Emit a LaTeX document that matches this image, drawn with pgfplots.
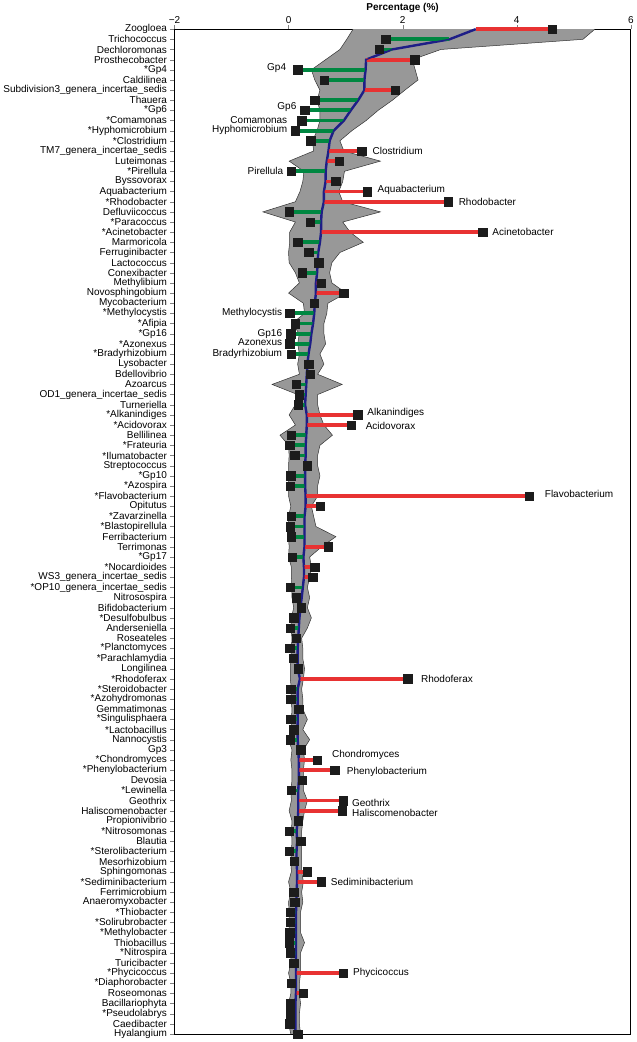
\documentclass[border=0pt]{standalone}
\usepackage{pgfplots}
\pgfplotsset{compat=1.18}
\usepackage{pgfplotstable}
\usepgfplotslibrary{fillbetween}
\usepackage{fontspec}
\setmainfont{Liberation Sans}
\definecolor{bandgray}{RGB}{152,152,152}
\definecolor{navyline}{RGB}{30,30,135}
\definecolor{greenbar}{RGB}{0,135,65}
\definecolor{redbar}{RGB}{232,50,50}
\definecolor{sqblack}{RGB}{28,28,28}

\pgfplotstableread{
row mean sample lo hi
1 3.28 4.62 1.13 5.37
2 2.82 1.70 1.02 5.16
3 1.81 1.59 0.90 2.67
4 1.36 2.21 0.65 2.17
5 1.35 0.16 0.40 2.22
6 1.33 0.62 0.46 2.27
7 1.33 1.87 0.55 2.04
8 1.22 0.46 0.50 1.82
9 1.09 0.28 0.55 1.57
10 0.97 0.23 0.55 1.36
11 0.79 0.12 0.50 1.11
12 0.72 0.39 0.42 0.90
13 0.70 1.28 0.44 0.97
14 0.67 0.89 0.01 1.61
15 0.65 0.05 0.27 0.98
16 0.65 0.83 0.25 0.95
17 0.62 1.38 0.20 0.88
18 0.62 2.80 0.12 0.95
19 0.58 0.01 -0.45 1.61
20 0.57 0.38 0.12 0.95
21 0.57 3.40 0.02 1.08
22 0.55 0.16 0.02 1.31
23 0.52 0.35 0.00 0.90
24 0.51 0.53 0.01 0.76
25 0.50 0.24 0.12 0.72
26 0.48 0.57 0.19 0.76
27 0.48 0.97 0.00 1.01
28 0.46 0.45 0.26 0.69
29 0.45 0.02 0.28 0.67
30 0.43 0.12 0.06 0.62
31 0.40 0.04 0.19 0.62
32 0.38 0.02 0.16 0.65
33 0.35 0.05 0.19 0.55
34 0.33 0.35 0.16 0.62
35 0.32 0.38 0.19 0.51
36 0.31 0.13 -0.29 0.94
37 0.30 0.19 0.16 0.51
38 0.29 0.17 0.12 0.51
39 0.32 1.21 0.01 0.55
40 0.32 1.10 0.12 0.62
41 0.31 0.05 -0.15 0.77
42 0.30 0.02 0.00 0.55
43 0.30 0.11 0.01 0.51
44 0.29 0.33 0.00 0.51
45 0.29 0.04 0.00 0.55
46 0.29 0.03 0.00 0.51
47 0.30 4.22 0.00 0.51
48 0.30 0.55 0.04 0.40
49 0.28 0.05 0.00 0.44
50 0.28 0.03 0.00 0.48
51 0.28 0.05 0.00 0.83
52 0.28 0.69 0.01 0.58
53 0.26 0.06 0.00 0.37
54 0.27 0.46 0.05 0.40
55 0.27 0.42 0.05 0.37
56 0.25 0.03 0.06 0.33
57 0.23 0.13 0.06 0.37
58 0.21 0.22 0.09 0.33
59 0.19 0.09 0.05 0.40
60 0.18 0.03 0.04 0.33
61 0.17 0.13 0.06 0.23
62 0.16 0.02 0.05 0.25
63 0.16 0.08 0.04 0.25
64 0.16 0.17 0.03 0.28
65 0.20 2.09 0.03 0.26
66 0.16 0.04 0.05 0.23
67 0.16 0.04 0.04 0.25
68 0.16 0.18 0.06 0.25
69 0.16 0.04 0.05 0.33
70 0.16 0.09 0.06 0.25
71 0.16 0.03 0.00 0.37
72 0.17 0.21 0.06 0.26
73 0.18 0.50 0.04 0.28
74 0.18 0.81 0.06 0.26
75 0.18 0.24 0.06 0.26
76 0.17 0.05 0.04 0.26
77 0.17 0.96 0.05 0.33
78 0.17 0.94 0.01 0.28
79 0.16 0.17 0.06 0.25
80 0.14 0.01 0.05 0.23
81 0.15 0.21 0.06 0.23
82 0.14 0.01 0.05 0.23
83 0.14 0.10 0.04 0.23
84 0.15 0.33 0.05 0.23
85 0.15 0.57 0.00 0.26
86 0.14 0.09 0.04 0.23
87 0.14 0.11 0.00 0.25
88 0.13 0.03 0.01 0.21
89 0.13 0.03 0.01 0.21
90 0.13 0.02 0.01 0.21
91 0.13 0.01 0.00 0.28
92 0.13 0.03 0.04 0.21
93 0.13 0.09 0.04 0.21
94 0.13 0.96 0.00 0.21
95 0.13 0.05 0.04 0.19
96 0.13 0.26 0.04 0.19
97 0.12 0.03 0.00 0.21
98 0.12 0.03 0.00 0.19
99 0.12 0.02 0.00 0.19
100 0.12 0.16 0.04 0.21
}\datatable

\pgfplotstableread{
x y label
1.47 13 Clostridium
1.56 16.8 Aquabacterium
2.98 18 Rhodobacter
3.57 21 Acinetobacter
1.38 38.8 Alkanindiges
1.35 40.1 Acidovorax
4.49 46.8 Flavobacterium
2.32 65 Rhodoferax
0.76 72.5 Chondromyces
1.02 74.2 Phenylobacterium
1.11 77.2 Geothrix
1.11 78.2 Haliscomenobacter
0.74 85 Sediminibacterium
1.13 94 Phycicoccus
}\rightlabels

\pgfplotstableread{
x y label
-0.04 4.85 Gp4
0.14 8.65 Gp6
-0.02 10 Comamonas
-0.02 10.9 Hyphomicrobium
-0.09 15 Pirellula
-0.11 29 Methylocystis
-0.11 31 Gp16
-0.11 31.85 Azonexus
-0.11 33 Bradyrhizobium
}\leftlabels

\begin{document}
\begin{tikzpicture}
\begin{axis}[
  scale only axis,
  width=456pt, height=1004pt,
  xmin=-2, xmax=6, ymin=1, ymax=100,
  y dir=reverse,
  xtick={-2,0,2,4,6},
  xticklabels={−2,0,2,4,6},
  xticklabel pos=right, xtick pos=right,
  ytick pos=left,
  tick align=outside,
  major tick length=4pt,
  xlabel={\textbf{Percentage (\%)}},
  xlabel style={yshift=-3pt},
  ticklabel style={font=\fontsize{10}{12}\selectfont},
  xticklabel style={yshift=-2pt},
  ytick={1,...,100},
  yticklabels={Zoogloea,Trichococcus,Dechloromonas,Prosthecobacter,*Gp4,Caldilinea,Subdivision3\_genera\_incertae\_sedis,Thauera,*Gp6,*Comamonas,*Hyphomicrobium,*Clostridium,TM7\_genera\_incertae\_sedis,Luteimonas,*Pirellula,Byssovorax,Aquabacterium,*Rhodobacter,Defluviicoccus,*Paracoccus,*Acinetobacter,Marmoricola,Ferruginibacter,Lactococcus,Conexibacter,Methylibium,Novosphingobium,Mycobacterium,*Methylocystis,*Afipia,*Gp16,*Azonexus,*Bradyrhizobium,Lysobacter,Bdellovibrio,Azoarcus,OD1\_genera\_incertae\_sedis,Turneriella,*Alkanindiges,*Acidovorax,Bellilinea,*Frateuria,*Ilumatobacter,Streptococcus,*Gp10,*Azospira,*Flavobacterium,Opitutus,*Zavarzinella,*Blastopirellula,Ferribacterium,Terrimonas,*Gp17,*Nocardioides,WS3\_genera\_incertae\_sedis,*OP10\_genera\_incertae\_sedis,Nitrosospira,Bifidobacterium,*Desulfobulbus,Anderseniella,Roseateles,*Planctomyces,*Parachlamydia,Longilinea,*Rhodoferax,*Steroidobacter,*Azohydromonas,Gemmatimonas,*Singulisphaera,*Lactobacillus,Nannocystis,Gp3,*Chondromyces,*Phenylobacterium,Devosia,*Lewinella,Geothrix,Haliscomenobacter,Propionivibrio,*Nitrosomonas,Blautia,*Sterolibacterium,Mesorhizobium,Sphingomonas,*Sediminibacterium,Ferrimicrobium,Anaeromyxobacter,*Thiobacter,*Solirubrobacter,*Methylobacter,Thiobacillus,*Nitrospira,Turicibacter,*Phycicoccus,*Diaphorobacter,Roseomonas,Bacillariophyta,*Pseudolabrys,Caedibacter,Hyalangium},
  axis line style={black, line width=0.8pt},
  clip=false,
]
% grey band
\addplot[name path=L, draw=black!80, line width=0.5pt, mark=none] table[x=lo, y=row] {\datatable};
\addplot[name path=R, draw=black!80, line width=0.5pt, mark=none] table[x=hi, y=row] {\datatable};
\addplot[bandgray] fill between[of=L and R];
% mean line
\addplot[navyline, line width=2.4pt, mark=none] table[x=mean, y=row] {\datatable};
% deviations below mean (green)
\addplot[greenbar, line width=3.8pt, mark=none,
  quiver={u={\thisrow{sample}-\thisrow{mean}}, v=0},
  restrict expr to domain={\thisrow{sample}-\thisrow{mean}}{-100:0}]
  table[x=mean, y=row] {\datatable};
% deviations above mean (red)
\addplot[redbar, line width=3.8pt, mark=none,
  quiver={u={\thisrow{sample}-\thisrow{mean}}, v=0},
  restrict expr to domain={\thisrow{sample}-\thisrow{mean}}{0:100}]
  table[x=mean, y=row] {\datatable};
% redraw mean line above bars lightly
\addplot[navyline, line width=1.2pt, mark=none] table[x=mean, y=row] {\datatable};
% sample squares
\addplot[only marks, mark=square*, mark size=4.2pt, mark options={fill=sqblack, draw=sqblack}] table[x=sample, y=row] {\datatable};
% labels
\addplot[draw=none, mark=none, nodes near coords, point meta=explicit symbolic,
  every node near coord/.append style={anchor=west, inner sep=0pt, font=\fontsize{10}{12}\selectfont}]
  table[x=x, y=y, meta=label] {\rightlabels};
\addplot[draw=none, mark=none, nodes near coords, point meta=explicit symbolic,
  every node near coord/.append style={anchor=east, inner sep=0pt, font=\fontsize{10}{12}\selectfont}]
  table[x=x, y=y, meta=label] {\leftlabels};
\end{axis}
\end{tikzpicture}
\end{document}
